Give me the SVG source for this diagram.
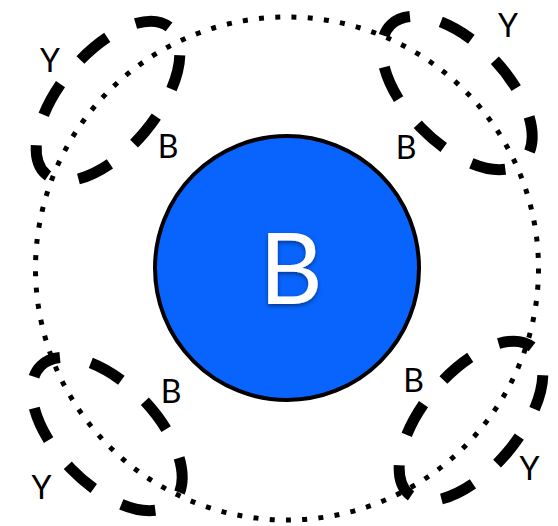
<svg xmlns="http://www.w3.org/2000/svg" width="558" height="526" viewBox="0 0 558 526">
<defs>
<filter id="shadow" x="-30%" y="-30%" width="160%" height="160%">
<feDropShadow dx="0" dy="2" stdDeviation="2" flood-color="#000" flood-opacity="0.45"/>
</filter>
<style>
.dotted{fill:none;stroke:#000;stroke-width:5;stroke-dasharray:5 11.29}
.dashA{fill:none;stroke:#000;stroke-width:11;stroke-dasharray:35 31.43;stroke-dashoffset:3}
.dashB{fill:none;stroke:#000;stroke-width:11;stroke-dasharray:35 31.64;stroke-dashoffset:14}
.lbl{font-family:Lato,"Open Sans","Liberation Sans",sans-serif;font-size:32px;fill:#000;text-anchor:middle}
.big{font-family:Lato,"Open Sans","Liberation Sans",sans-serif;font-size:98px;fill:#fff;text-anchor:middle}
</style>
</defs>
<g id="orbit">
<circle class="dotted" cx="287" cy="268.5" r="251.5"/>
</g>
<g id="top-left">
<ellipse class="dashA" cx="0" cy="0" rx="96" ry="48" transform="translate(108,101) rotate(130)"/>
<text class="lbl" x="50" y="72">Y</text>
<text class="lbl" x="168" y="158">B</text>
</g>
<g id="top-right">
<ellipse class="dashB" cx="0" cy="0" rx="95" ry="50" transform="translate(457,93) rotate(226)"/>
<text class="lbl" x="508" y="37">Y</text>
<text class="lbl" x="406" y="159">B</text>
</g>
<g id="bottom-left">
<ellipse class="dashB" cx="0" cy="0" rx="95" ry="50" transform="translate(107,434) rotate(226)"/>
<text class="lbl" x="41.5" y="499">Y</text>
<text class="lbl" x="171" y="403">B</text>
</g>
<g id="bottom-right">
<ellipse class="dashA" cx="0" cy="0" rx="96" ry="48" transform="translate(471,421) rotate(130)"/>
<text class="lbl" x="529.5" y="480">Y</text>
<text class="lbl" x="413.5" y="392">B</text>
</g>
<g id="center">
<circle cx="287" cy="268" r="132" fill="#0864fc" stroke="#000" stroke-width="4"/>
<text class="big" x="291" y="304" filter="url(#shadow)">B</text>
</g>
</svg>
